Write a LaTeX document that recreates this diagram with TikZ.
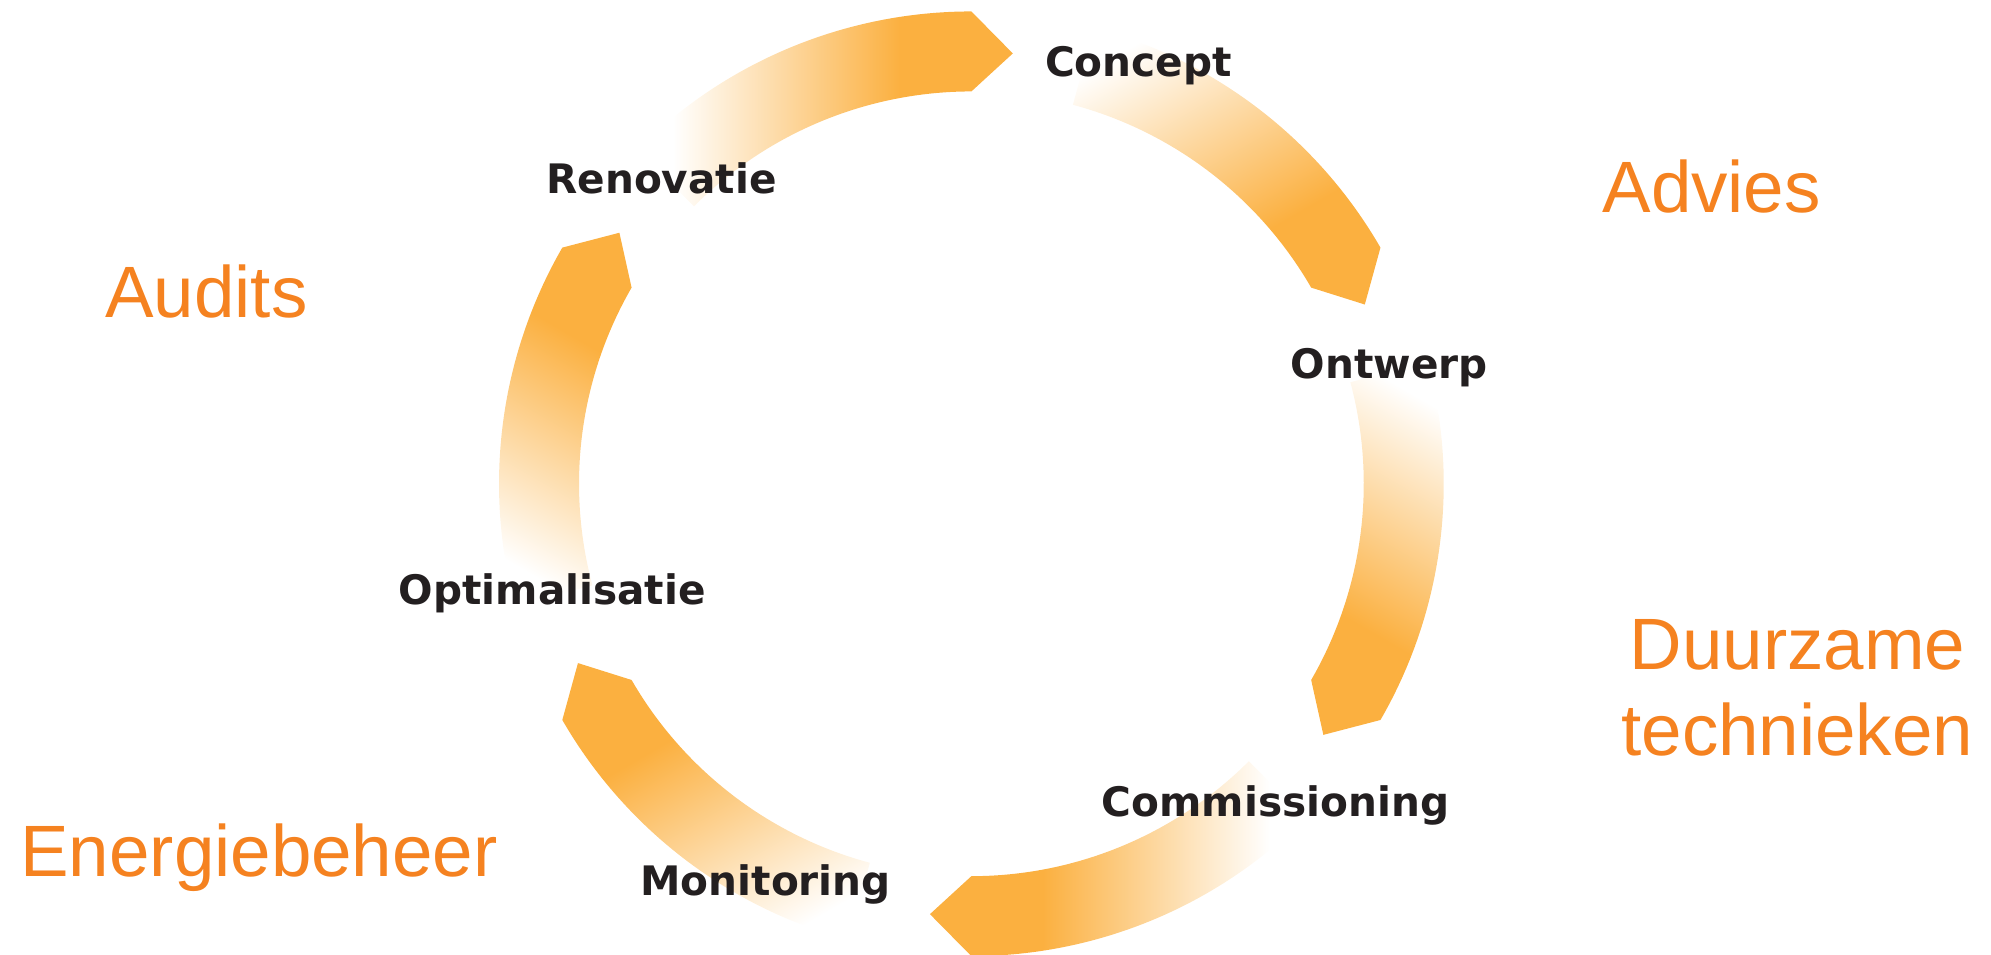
\documentclass[tikz,border=0pt]{standalone}
\usepackage{fontspec}
\usepackage{tikz}
\setmainfont{Liberation Sans}
\newfontfamily\stagefont{DejaVu Sans}
\definecolor{ringorange}{RGB}{251,176,64}
\definecolor{fieldorange}{RGB}{245,130,32}
\definecolor{stageblack}{RGB}{35,31,32}
\pgfdeclarehorizontalshading{ringfade}{100bp}{color(0bp)=(white); color(29.7bp)=(white); color(60bp)=(ringorange); color(100bp)=(ringorange)}

\tikzset{
  stage/.style={font=\stagefont\bfseries\fontsize{9.1}{10}\selectfont, text=stageblack, anchor=base, inner sep=0pt},
  field/.style={font=\fontsize{16.3}{19.3}\selectfont, text=fieldorange, anchor=base, inner sep=0pt, align=center},
  ringarrow/.style={shading=ringfade, shading angle=0}
}

\begin{document}
\begin{tikzpicture}
    \useasboundingbox (0,0) rectangle (15.68,7.52);

    % ring of six arrows, each one the top arrow turned clockwise
    \foreach \turn in {0,-60,-120,-180,-240,-300} {
      \begin{scope}[transform canvas={shift={(7.65,3.71)}, rotate=\turn}]
        \shade[ringarrow] (135:3.72) arc[start angle=135, end angle=90, radius=3.72]
          -- (84.5:3.405) -- (90:3.09) arc[start angle=90, end angle=135, radius=3.09] -- cycle;
      \end{scope}
    }

    \node[stage] (concept)       at (8.965, 6.92) {Concept};
    \node[stage] (ontwerp)       at (10.94, 4.54) {Ontwerp};
    \node[stage] (commissioning) at (10.045, 1.09) {Commissioning};
    \node[stage] (monitoring)    at (6.03, 0.47)  {Monitoring};
    \node[stage] (optimalisatie) at (4.35, 2.76)  {Optimalisatie};
    \node[stage] (renovatie)     at (5.21, 6.00)  {Renovatie};

    \node[field] (advies)        at (13.48, 5.85)  {Advies};
    \node[field] (audits)        at (1.625, 5.02)  {Audits};
    \node[field] (energie)       at (2.04, 0.62)   {Energiebeheer};
    \node[field] (duurzaam)      at (14.155, 1.57) {Duurzame\\technieken};
\end{tikzpicture}
\end{document}
